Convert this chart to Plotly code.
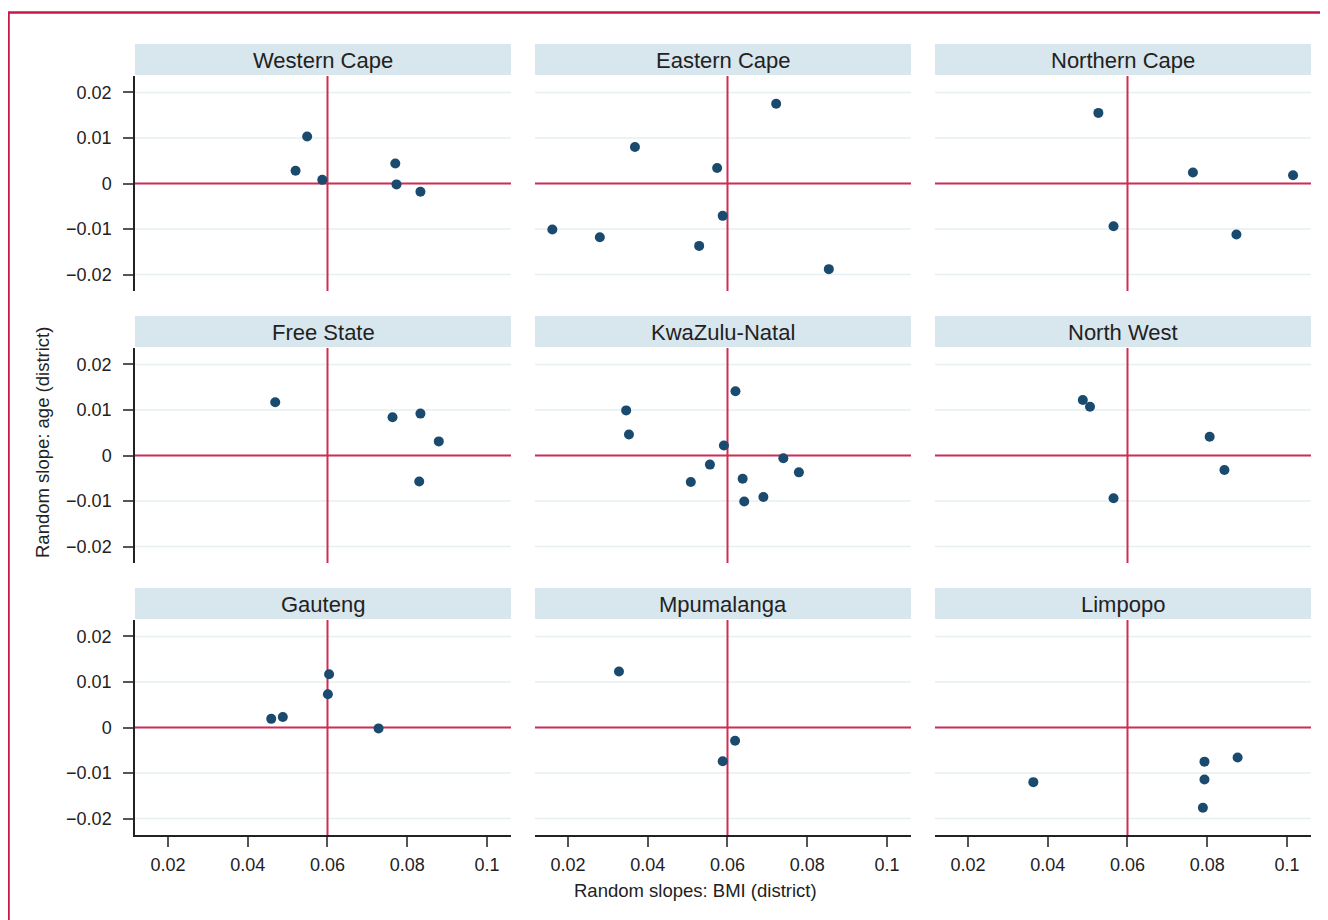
import plotly.graph_objects as go

# ---------------- data ----------------
provinces = ["Western Cape", "Eastern Cape", "Northern Cape",
             "Free State", "KwaZulu-Natal", "North West",
             "Gauteng", "Mpumalanga", "Limpopo"]

wc_bmi = [0.0520, 0.0549, 0.0587, 0.0770, 0.0773, 0.0833]
wc_age = [0.0028, 0.0103, 0.0008, 0.0044, -0.0002, -0.0018]

ec_bmi = [0.0161, 0.0280, 0.0368, 0.0529, 0.0574, 0.0588, 0.0722, 0.0854]
ec_age = [-0.0101, -0.0118, 0.0080, -0.0137, 0.0034, -0.0071, 0.0175, -0.0188]

nc_bmi = [0.0527, 0.0565, 0.0764, 0.0873, 0.1015]
nc_age = [0.0155, -0.0094, 0.0024, -0.0112, 0.0018]

fs_bmi = [0.0469, 0.0763, 0.0833, 0.0879, 0.0830]
fs_age = [0.0117, 0.0084, 0.0092, 0.0031, -0.0057]

kzn_bmi = [0.0346, 0.0353, 0.0508, 0.0556, 0.0591, 0.0620, 0.0638, 0.0642, 0.0690, 0.0740, 0.0779]
kzn_age = [0.0099, 0.0046, -0.0058, -0.0020, 0.0022, 0.0141, -0.0051, -0.0101, -0.0091, -0.0006, -0.0037]

nw_bmi = [0.0488, 0.0506, 0.0565, 0.0806, 0.0843]
nw_age = [0.0122, 0.0107, -0.0094, 0.0041, -0.0032]

gp_bmi = [0.0459, 0.0488, 0.0601, 0.0604, 0.0728]
gp_age = [0.0019, 0.0023, 0.0073, 0.0117, -0.0002]

mp_bmi = [0.0328, 0.0619, 0.0588]
mp_age = [0.0123, -0.0029, -0.0074]

lp_bmi = [0.0364, 0.0793, 0.0793, 0.0789, 0.0876]
lp_age = [-0.0120, -0.0075, -0.0114, -0.0176, -0.0066]

bmi_series = [wc_bmi, ec_bmi, nc_bmi, fs_bmi, kzn_bmi, nw_bmi, gp_bmi, mp_bmi, lp_bmi]
age_series = [wc_age, ec_age, nc_age, fs_age, kzn_age, nw_age, gp_age, mp_age, lp_age]

x_ticks = [0.02, 0.04, 0.06, 0.08, 0.1]
x_ticklabels = ["0.02", "0.04", "0.06", "0.08", "0.1"]
y_ticks = [0.02, 0.01, 0, -0.01, -0.02]
y_ticklabels = ["0.02", "0.01", "0", "\u22120.01", "\u22120.02"]
ref_x = 0.06
ref_y = 0.0

x_title = "Random slopes: BMI (district)"
y_title = "Random slope: age (district)"

# ---------------- layout geometry ----------------
# page body has an 8px margin, so the figure is slightly smaller and offset
OFF = 8
W, H = 1320, 912
col_px = [(135, 511), (535, 911), (935, 1311)]
row_px = [(76, 291), (348, 563), (620, 835)]
strip_px = [(44, 75), (316, 347), (588, 619)]

def fx(px):
    return (px - OFF) / W

def fy(py):
    return 1 - (py - OFF) / H

FONT = "Liberation Sans, Arial, Helvetica, sans-serif"
NAVY = "#1a4a6e"
RED = "#cf2d55"
GRID = "#e6eff2"
STRIP = "#d8e6ed"
TXT = "#222222"

fig = go.Figure()
layout = dict(
    width=W, height=H,
    margin=dict(l=0, r=0, t=0, b=0),
    paper_bgcolor="white", plot_bgcolor="white",
    showlegend=False,
    font=dict(family=FONT, size=18, color=TXT),
)
shapes = []
annotations = []

for i in range(9):
    r, c = divmod(i, 3)
    n = i + 1
    xa = "xaxis" if n == 1 else f"xaxis{n}"
    ya = "yaxis" if n == 1 else f"yaxis{n}"
    xr = "x" if n == 1 else f"x{n}"
    yr = "y" if n == 1 else f"y{n}"

    fig.add_trace(go.Scatter(
        x=bmi_series[i], y=age_series[i], mode="markers",
        marker=dict(color=NAVY, size=10, symbol="circle", line=dict(width=0)),
        xaxis=xr, yaxis=yr, hoverinfo="x+y",
    ))

    show_x = (r == 2)
    show_y = (c == 0)
    layout[xa] = dict(
        domain=[fx(col_px[c][0]), fx(col_px[c][1])],
        anchor=yr,
        range=[0.01175, 0.106],
        tickvals=x_ticks, ticktext=x_ticklabels,
        showticklabels=show_x,
        ticks="outside" if show_x else "",
        ticklen=10, tickwidth=2, tickcolor="#555555",
        showline=show_x, linecolor=TXT, linewidth=1.5,
        showgrid=False, zeroline=False,
        tickfont=dict(size=18, color=TXT, family=FONT),
        ticklabelstandoff=3,
    )
    layout[ya] = dict(
        domain=[fy(row_px[r][1]), fy(row_px[r][0])],
        anchor=xr,
        range=[-0.0236, 0.0236],
        tickvals=y_ticks, ticktext=y_ticklabels,
        showticklabels=show_y,
        ticks="outside" if show_y else "",
        ticklen=10, tickwidth=2, tickcolor="#555555",
        showline=show_y, linecolor=TXT, linewidth=1.5,
        showgrid=False, zeroline=False,
        tickfont=dict(size=18, color=TXT, family=FONT),
        ticklabelstandoff=8,
    )

    # strip
    shapes.append(dict(
        type="rect", xref="paper", yref="paper",
        x0=fx(col_px[c][0]), x1=fx(col_px[c][1]),
        y0=fy(strip_px[r][1]), y1=fy(strip_px[r][0]),
        fillcolor=STRIP, line=dict(width=0), layer="below",
    ))
    annotations.append(dict(
        text=provinces[i], xref="paper", yref="paper",
        x=fx((col_px[c][0] + col_px[c][1]) / 2),
        y=fy((strip_px[r][0] + strip_px[r][1]) / 2 + 1),
        xanchor="center", yanchor="middle", showarrow=False,
        font=dict(size=22, color=TXT, family=FONT),
    ))
    # faint horizontal gridlines at the y ticks
    for yv in y_ticks:
        shapes.append(dict(
            type="line", xref=f"{xr} domain", yref=yr,
            x0=0, x1=1, y0=yv, y1=yv,
            line=dict(color=GRID, width=1.5), layer="below",
        ))
    # reference lines (drawn after gridlines, below markers)
    shapes.append(dict(
        type="line", xref=xr, yref=f"{yr} domain",
        x0=ref_x, x1=ref_x, y0=0, y1=1,
        line=dict(color=RED, width=2), layer="below",
    ))
    shapes.append(dict(
        type="line", xref=f"{xr} domain", yref=yr,
        x0=0, x1=1, y0=ref_y, y1=ref_y,
        line=dict(color=RED, width=2), layer="below",
    ))

# outer crimson frame (right/bottom edges beyond the canvas)
shapes.append(dict(
    type="rect", xref="paper", yref="paper",
    x0=fx(8.5), x1=fx(1345), y0=fy(945), y1=fy(12.5),
    line=dict(color="#c8174a", width=2.5), fillcolor="rgba(0,0,0,0)",
))

annotations.append(dict(
    text=x_title, xref="paper", yref="paper",
    x=fx(695), y=fy(890), xanchor="center", yanchor="middle",
    showarrow=False, font=dict(size=18.5, color=TXT, family=FONT),
))
annotations.append(dict(
    text=y_title, xref="paper", yref="paper",
    x=fx(42), y=fy(443), xanchor="center", yanchor="middle",
    textangle=-90, showarrow=False,
    font=dict(size=18.5, color=TXT, family=FONT),
))

layout["shapes"] = shapes
layout["annotations"] = annotations
fig.update_layout(**layout)
fig.write_html("out.html")
